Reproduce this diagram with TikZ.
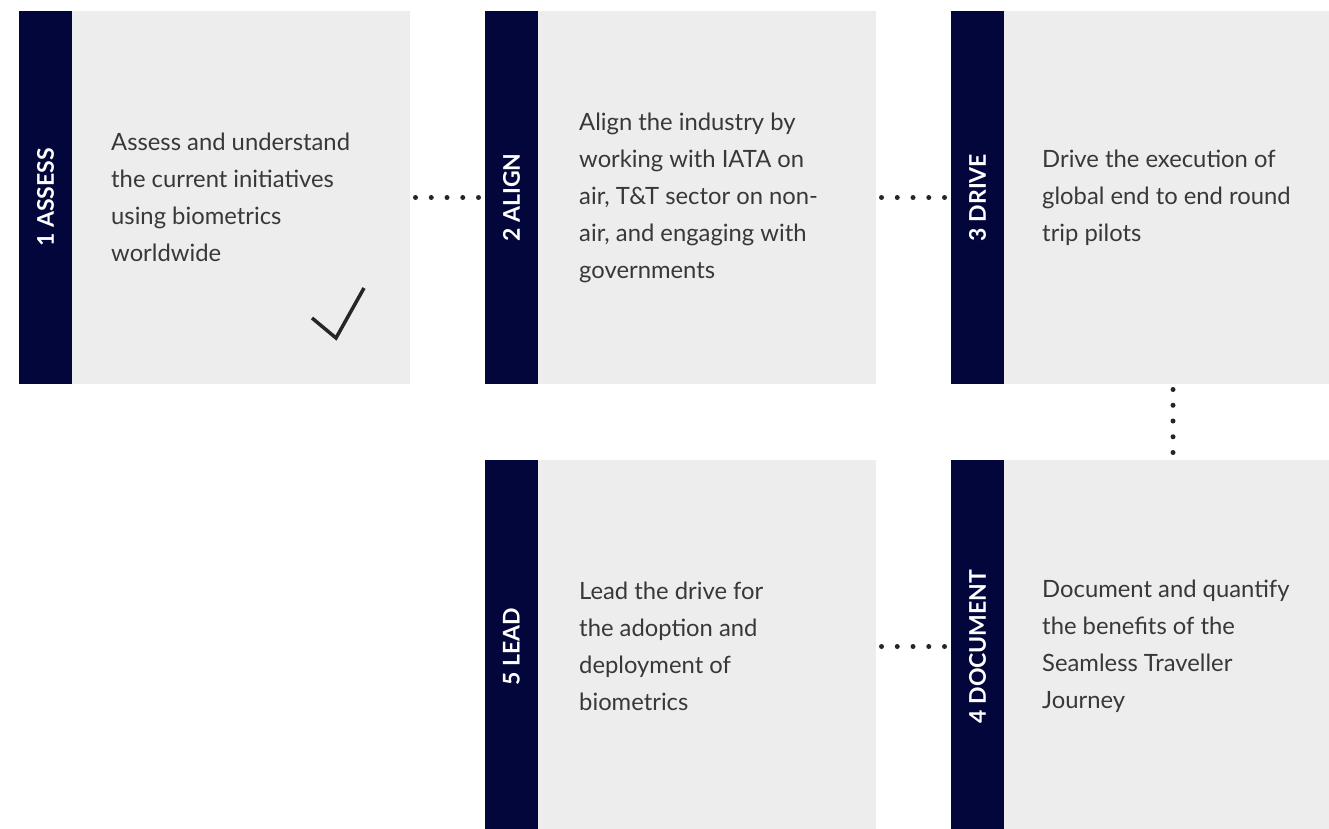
\documentclass[tikz,border=0pt]{standalone}
\usepackage{fontspec}
\setmainfont{Lato}
\usetikzlibrary{positioning}
\definecolor{navy}{HTML}{03063A}
\definecolor{panelgrey}{HTML}{EDEDED}
\definecolor{bodytext}{HTML}{383838}

\begin{document}
\begin{tikzpicture}[x=1pt,y=-1pt,
    bar/.style={fill=navy, minimum width=53pt, minimum height=373pt, inner sep=0pt, outer sep=0pt},
    panel/.style={fill=panelgrey, minimum width=338pt, minimum height=373pt, inner sep=0pt, outer sep=0pt},
    tag/.style={text=white, rotate=90, inner sep=0pt, font=\fontsize{23}{23}\selectfont\bfseries},
    body/.style={text=bodytext, anchor=west, align=left, inner sep=0pt, font=\fontsize{23.8}{37}\selectfont},
    dots/.style={draw=black!85, line width=5pt, line cap=round, dash pattern=on 0pt off 15.75pt, shorten <=5.5pt, shorten >=5.5pt}]
  \useasboundingbox (0,0) rectangle (1329,828);

  % top row
  \node [bar] (bar1) at (45.5,197.5) {};
  \node [panel, right=0pt of bar1] (panel1) {};
  \node [bar] (bar2) at (511.5,197.5) {};
  \node [panel, right=0pt of bar2] (panel2) {};
  \node [bar] (bar3) at (977.5,197.5) {};
  \node [panel, right=0pt of bar3] (panel3) {};

  % bottom row
  \node [bar] (bar5) at (511.5,646.5) {};
  \node [panel, right=0pt of bar5] (panel5) {};
  \node [bar] (bar4) at (977.5,646.5) {};
  \node [panel, right=0pt of bar4] (panel4) {};

  \node [tag] (tag1) at (bar1) {1 ASSESS};
  \node [tag] (tag2) at (bar2) {2 ALIGN};
  \node [tag] (tag3) at (bar3) {3 DRIVE};
  \node [tag] (tag4) at (bar4) {4 DOCUMENT};
  \node [tag] (tag5) at (bar5) {5 LEAD};

  \node [body] (text1) at ([xshift=39pt]panel1.west)
    {Assess and understand\\the current initiatives\\using biometrics\\worldwide};
  \node [body] (text2) at ([xshift=41pt]panel2.west)
    {Align the industry by\\working with IATA on\\air, T\&T sector on non-\\air, and engaging with\\governments};
  \node [body] (text3) at ([xshift=38pt]panel3.west)
    {Drive the execution of\\global end to end round\\trip pilots};
  \node [body] (text4) at ([xshift=38pt]panel4.west)
    {Document and quantify\\the benefits of the\\Seamless Traveller\\Journey};
  \node [body] (text5) at ([xshift=41pt]panel5.west)
    {Lead the drive for\\the adoption and\\deployment of\\biometrics};

  \draw [black!85, line width=3.5pt] (312,318) -- (336,338) -- (364,288);

  \draw [dots] (panel1.east) -- (bar2.west);
  \draw [dots] (panel2.east) -- (bar3.west);
  \draw [dots] (panel3.south) -- (panel4.north);
  \draw [dots] (panel5.east) -- (bar4.west);
\end{tikzpicture}
\end{document}
